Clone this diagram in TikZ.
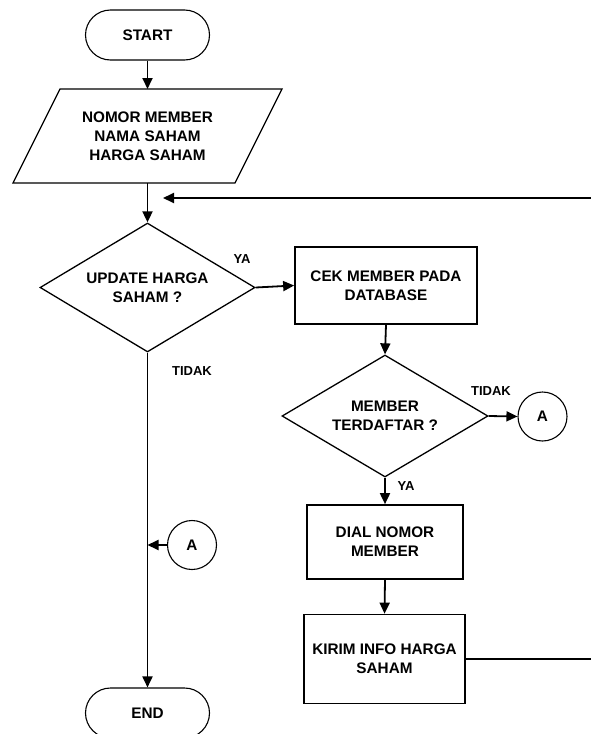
\documentclass[tikz,border=0pt]{standalone}
\usepackage{fontspec}
\setmainfont{Liberation Sans}
\usetikzlibrary{shapes.geometric,shapes.misc,arrows.meta}
\begin{document}
\begin{tikzpicture}[x=1pt,y=-1pt,
  every node/.style={font=\fontsize{15.3}{19}\selectfont\bfseries, align=center, inner sep=0pt},
  term/.style={draw, rounded rectangle, minimum width=124pt, minimum height=50pt, line width=1.1pt},
  proc/.style={draw, rectangle, line width=1.7pt},
  dec/.style={draw, diamond, line width=1.3pt},
  conn/.style={draw, circle, minimum size=49pt, line width=1.1pt},
  iobox/.style={draw, line width=1.3pt, line join=miter},
  flow/.style={line width=1.8pt, -{Triangle[length=11pt,width=10pt]}},
  lbl/.style={font=\fontsize{13}{15}\selectfont\bfseries}]
\useasboundingbox (0,0) rectangle (591,734);

\node[term] (start) at (147.5,35) {START};
\draw[iobox] (60,89) -- (282,89) -- (235,183) -- (13,183) -- cycle;
\coordinate (iotop) at (147.5,89);
\coordinate (iobot) at (147.5,183);
\node (io) at (147.5,136) {NOMOR MEMBER\\NAMA SAHAM\\HARGA SAHAM};

\node[dec, aspect=1.667, minimum width=215pt, minimum height=129pt] (d1) at (147.5,287.5) {UPDATE HARGA\\SAHAM ?};
\node[proc, minimum width=182pt, minimum height=77pt] (cek) at (386,285.5) {CEK MEMBER PADA\\DATABASE};
\node[dec, aspect=1.69, minimum width=206pt, minimum height=122pt] (d2) at (385,416) {MEMBER\\TERDAFTAR ?};
\node[conn] (ca) at (542.5,416.5) {A};
\node[proc, minimum width=156pt, minimum height=74pt] (dial) at (385,542) {DIAL NOMOR\\MEMBER};
\node[proc, minimum width=161pt, minimum height=89pt] (kirim) at (384.5,659) {KIRIM INFO HARGA\\SAHAM};
\node[conn] (cb) at (192,545) {A};
\node[term] (end) at (147.5,713) {END};

\node[lbl] (ya1) at (242,259) {YA};
\node[lbl] (tidak1) at (192,371) {TIDAK};
\node[lbl] (tidak2) at (491,391) {TIDAK};
\node[lbl] (ya2) at (406,486) {YA};

\coordinate (fbend) at (163,198);
\coordinate (fbx) at (597,198);

\draw[flow] (start.south) -- (iotop);
\draw[flow] (iobot) -- (d1.north);
\draw[flow] (d1.east) -- (cek.west);
\draw[flow] (cek.south) -- (d2.north);
\draw[flow] (d2.east) -- (ca.west);
\draw[flow] (d2.south) -- (dial.north);
\draw[flow] (dial.south) -- (kirim.north);
\draw[flow] (d1.south) -- (end.north);
\draw[flow] (cb.west) -- (cb.west -| d1.south);
\draw[flow] (kirim.east) -- (kirim.east -| fbx) -- (fbx) -- (fbend);
\end{tikzpicture}
\end{document}
